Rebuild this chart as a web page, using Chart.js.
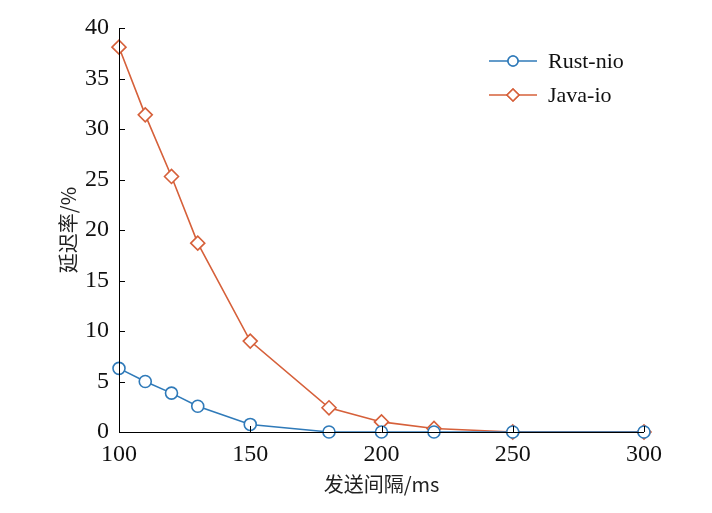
<!DOCTYPE html>
<html>
<head>
<meta charset="utf-8">
<script src="https://cdn.jsdelivr.net/npm/chart.js@4/dist/chart.umd.min.js"></script>
<style>
  html, body { margin: 0; padding: 0; background: #fff; }
  #wrap { width: 712px; height: 513px; position: relative; }
</style>
</head>
<body>
<div id="wrap"><canvas id="chart"></canvas></div>
<script>
// данные графика
const intervals = [100, 110, 120, 130, 150, 180, 200, 220, 250, 300];
const rustNio = [6.3, 5.0, 3.85, 2.55, 0.75, 0, 0, 0, 0, 0];
const javaIo = [38.1, 31.4, 25.3, 18.7, 9.0, 2.4, 1.0, 0.35, 0, 0];
const xTicks = [100, 150, 200, 250, 300];
const yTicks = [0, 5, 10, 15, 20, 25, 30, 35, 40];
const seriesNames = ['Rust-nio', 'Java-io'];
const xTitle = '发送间隔/ms';
const yTitle = '延迟率/%';

const BLUE = '#2f7ab9';
const ORANGE = '#d6603a';
const SERIF = '"Liberation Serif", "DejaVu Serif", serif';
const CJK = '"Noto Sans CJK SC", "Liberation Serif", serif';

// оси и засечки внутрь
const innerTicks = {
  id: 'innerTicks',
  afterDatasetsDraw(chart) {
    const { ctx, chartArea, scales } = chart;
    ctx.save();
    ctx.strokeStyle = '#000';
    ctx.lineWidth = 1;
    ctx.beginPath();
    ctx.moveTo(chartArea.left + 0.5, chartArea.top);
    ctx.lineTo(chartArea.left + 0.5, chartArea.bottom + 0.5);
    ctx.lineTo(chartArea.right, chartArea.bottom + 0.5);
    yTicks.forEach(v => {
      const y = Math.round(scales.y.getPixelForValue(v)) + 0.5;
      ctx.moveTo(chartArea.left, y);
      ctx.lineTo(chartArea.left + 6, y);
    });
    xTicks.forEach(v => {
      const x = Math.round(scales.x.getPixelForValue(v)) + 0.5;
      ctx.moveTo(x, chartArea.bottom);
      ctx.lineTo(x, chartArea.bottom - 6);
    });
    ctx.stroke();
    ctx.restore();
  }
};

// подписи осей
const axisTitles = {
  id: 'axisTitles',
  afterDraw(chart) {
    const { ctx, chartArea } = chart;
    ctx.save();
    ctx.fillStyle = '#222';
    ctx.font = '20px ' + CJK;
    ctx.textAlign = 'center';
    ctx.textBaseline = 'middle';
    ctx.fillText(xTitle, (chartArea.left + chartArea.right) / 2, 484);
    ctx.translate(68, 230);
    ctx.rotate(-Math.PI / 2);
    ctx.fillText(yTitle, 0, 0);
    ctx.restore();
  }
};

// легенда внутри графика, справа сверху
const innerLegend = {
  id: 'innerLegend',
  afterDraw(chart) {
    const { ctx } = chart;
    ctx.save();
    chart.data.datasets.forEach((ds, i) => {
      const y = 61 + i * 34;
      ctx.strokeStyle = ds.borderColor;
      ctx.lineWidth = 1.5;
      ctx.beginPath();
      ctx.moveTo(489, y);
      ctx.lineTo(537, y);
      ctx.stroke();
      Chart.helpers.drawPoint(ctx, {
        pointStyle: ds.pointStyle,
        radius: ds.pointRadius - 1,
        borderWidth: 1.5
      }, 513, y);
      ctx.fillStyle = '#fff';
      ctx.fill();
      ctx.stroke();
      ctx.fillStyle = '#111';
      ctx.font = '22px ' + SERIF;
      ctx.textBaseline = 'middle';
      ctx.textAlign = 'left';
      ctx.fillText(ds.label, 548, y + 1);
    });
    ctx.restore();
  }
};

new Chart(document.getElementById('chart'), {
  type: 'line',
  data: {
    datasets: [
      {
        label: seriesNames[0],
        data: intervals.map((x, i) => ({ x, y: rustNio[i] })),
        borderColor: BLUE,
        backgroundColor: '#fff',
        borderWidth: 1.6,
        pointStyle: 'circle',
        pointRadius: 6,
        pointBorderWidth: 1.6,
        tension: 0
      },
      {
        label: seriesNames[1],
        data: intervals.map((x, i) => ({ x, y: javaIo[i] })),
        borderColor: ORANGE,
        backgroundColor: '#fff',
        borderWidth: 1.6,
        pointStyle: 'rectRot',
        pointRadius: 7,
        pointBorderWidth: 1.6,
        tension: 0
      }
    ]
  },
  options: {
    responsive: true,
    maintainAspectRatio: false,
    animation: false,
    clip: false,
    layout: { padding: { top: 28, right: 68, left: 0, bottom: 0 } },
    plugins: {
      legend: { display: false },
      tooltip: { enabled: false }
    },
    scales: {
      x: {
        type: 'linear',
        min: 100,
        max: 300,
        afterBuildTicks: s => { s.ticks = xTicks.map(v => ({ value: v })); },
        afterFit: s => { s.height = 81; },
        border: { display: false },
        grid: { display: false, drawTicks: false },
        ticks: {
          padding: 8,
          color: '#111',
          maxRotation: 0,
          font: { family: SERIF, size: 24 }
        }
      },
      y: {
        min: 0,
        max: 40,
        afterBuildTicks: s => { s.ticks = yTicks.map(v => ({ value: v })); },
        afterFit: s => { s.width = 119; },
        border: { display: false },
        grid: { display: false, drawTicks: false },
        ticks: {
          padding: 10,
          color: '#111',
          font: { family: SERIF, size: 24 }
        }
      }
    }
  },
  plugins: [innerTicks, axisTitles, innerLegend]
});
</script>
</body>
</html>
